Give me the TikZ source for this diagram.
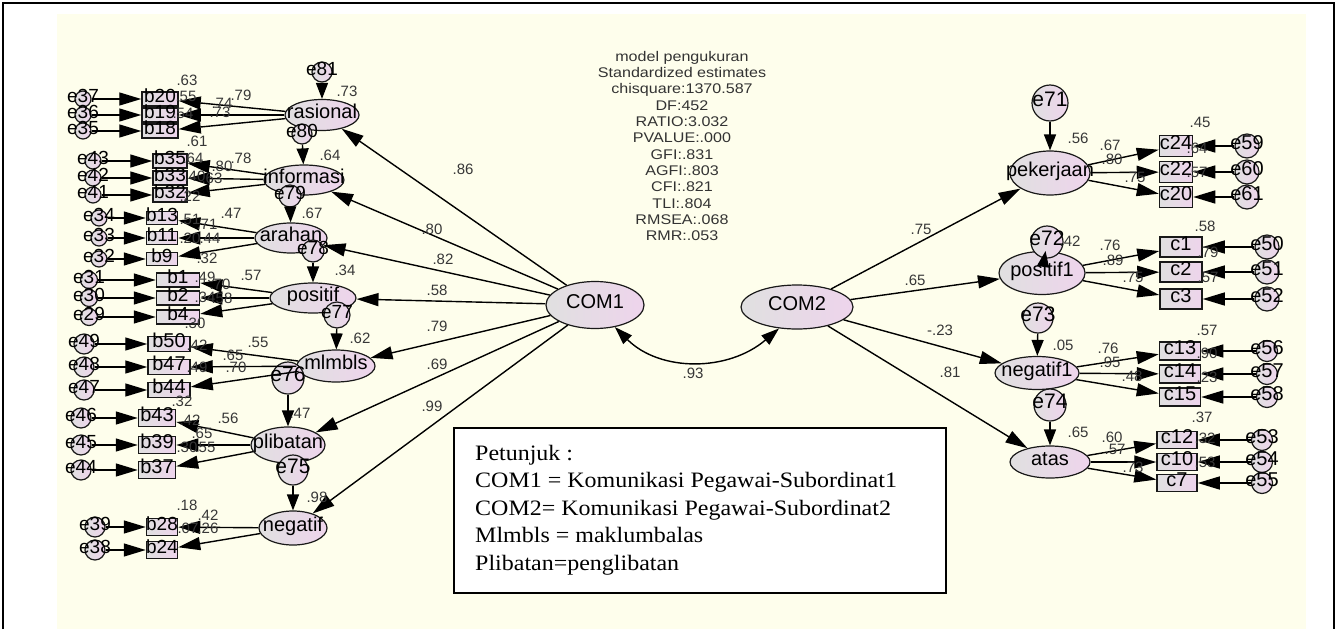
\documentclass[tikz,border=0pt]{standalone}
\usepackage{fontspec}
\setmainfont{Liberation Sans}
\newfontfamily\statfont[FakeStretch=1.15]{Liberation Sans}
\newfontfamily\notefont[FakeStretch=1.09]{Liberation Serif}
\usetikzlibrary{shapes.geometric,arrows.meta}
\newcommand\FS[1]{\fontsize{#1}{#1}\selectfont}
\definecolor{bgy}{RGB}{254,254,236}
\definecolor{gL}{RGB}{224,224,224}
\definecolor{gR}{RGB}{238,212,236}
\definecolor{lab}{RGB}{55,55,55}
\tikzset{
  zt/.style={execute at begin node={\hbox to 0pt\bgroup\hss}, execute at end node={\hss\egroup}, text height=#1, text depth=-#1},
  shp/.style={draw=black!90, line width=1.2pt, left color=gL, right color=gR, inner sep=0pt},
  lat/.style n args={2}{shp, ellipse, minimum width=#1, minimum height=#2, font=\FS{20}, zt=7.2pt},
  obsL/.style n args={2}{shp, rectangle, line width=1.5pt, minimum width=#1, minimum height=#2, font=\FS{19}, zt=6.8pt},
  obsR/.style n args={2}{shp, rectangle, line width=1.5pt, minimum width=#1, minimum height=#2, font=\FS{20}, zt=7.2pt},
  errS/.style={shp, circle, minimum size=#1, font=\FS{19}, zt=6.8pt},
  errR/.style={shp, circle, minimum size=#1, font=\FS{20}, zt=7.2pt},
  errB/.style={shp, circle, minimum size=#1, font=\FS{21}, zt=7.6pt},
  arr/.style={line width=1.4pt, -{Triangle[length=22pt,width=13pt]}},
  arrS/.style={line width=1.4pt, -{Triangle[length=16pt,width=12pt]}},
  cov/.style={line width=1.4pt, {Triangle[length=18pt,width=12pt]}-{Triangle[length=18pt,width=12pt]}},
  lb/.style={font=\FS{15}, text=lab, inner sep=0pt},
}
\begin{document}
\begin{tikzpicture}[x=1pt,y=-1pt]
\useasboundingbox (0,0) rectangle (1338,629);
\fill[bgy] (57,14) rectangle (1306,629);
\draw[line width=2.5pt] (3,629) -- (3,3) -- (1334,3) -- (1334,629);

% ---------- central latents
\node[lat={98}{47}] (com1) at (595,305) {COM1};
\node[lat={112}{44}] (com2) at (797,307) {COM2};

% ---------- left latents
\node[lat={74}{31}] (ras) at (322,115) {rasional};
\node[lat={80}{30}] (inf) at (304,180) {informasi};
\node[lat={72}{30}] (ara) at (291,238) {arahan};
\node[lat={86}{30}] (pos) at (313,298) {positif};
\node[lat={78}{32}] (mlm) at (336,366) {mlmbls};
\node[lat={74}{36}] (pli) at (288,445) {plibatan};
\node[lat={68}{34}] (neg) at (293,528) {negatif};

% ---------- right latents
\node[lat={80}{44}] (pek) at (1050,173) {pekerjaan};
\node[lat={86}{43}] (pos1) at (1042,273) {positif1};
\node[lat={84}{33}] (neg1) at (1037,373) {negatif1};
\node[lat={80}{32}] (atas) at (1050,462) {atas};

% ---------- left indicators
\node[obsL={36}{14}] (b20) at (160,99) {b20};
\node[obsL={36}{14}] (b19) at (160,115) {b19};
\node[obsL={36}{14}] (b18) at (160,131) {b18};
\node[obsL={34}{14}] (b35) at (170,161) {b35};
\node[obsL={34}{14}] (b33) at (170,178) {b33};
\node[obsL={34}{14}] (b32) at (170,195) {b32};
\node[obsL={31}{13}] (b13) at (162,218) {b13};
\node[obsL={31}{13}] (b11) at (162,238) {b11};
\node[obsL={31}{13}] (b9) at (162,259) {b9};
\node[obsL={43}{14}] (b1) at (178,280) {b1};
\node[obsL={43}{14}] (b2) at (178,298) {b2};
\node[obsL={43}{14}] (b4) at (178,317) {b4};
\node[obsR={42}{15}] (b50) at (169,344) {b50};
\node[obsR={42}{15}] (b47) at (169,367) {b47};
\node[obsR={42}{15}] (b44) at (169,390) {b44};
\node[obsR={37}{17}] (b43) at (157,418) {b43};
\node[obsR={37}{17}] (b39) at (157,445) {b39};
\node[obsR={37}{17}] (b37) at (157,470) {b37};
\node[obsL={31}{17}] (b28) at (162,527) {b28};
\node[obsL={31}{17}] (b24) at (162,550) {b24};

% ---------- right indicators
\node[obsR={33}{21}] (c24) at (1176,146) {c24};
\node[obsR={33}{21}] (c22) at (1176,172) {c22};
\node[obsR={33}{21}] (c20) at (1176,197) {c20};
\node[obsR={42}{20}] (c1) at (1181,247) {c1};
\node[obsR={42}{20}] (c2) at (1181,272) {c2};
\node[obsR={42}{20}] (c3) at (1181,299) {c3};
\node[obsR={41}{18}] (c13) at (1180,351) {c13};
\node[obsR={41}{18}] (c14) at (1180,374) {c14};
\node[obsR={41}{18}] (c15) at (1180,397) {c15};
\node[obsR={40}{17}] (c12) at (1177,440) {c12};
\node[obsR={40}{17}] (c10) at (1177,462) {c10};
\node[obsR={40}{17}] (c7) at (1177,483) {c7};

% ---------- left indicator errors
\node[errS=16] (e37) at (83,99) {e37};
\node[errS=16] (e36) at (83,115) {e36};
\node[errS=16] (e35) at (83,131) {e35};
\node[errS=16] (e43) at (93,161) {e43};
\node[errS=16] (e42) at (93,178) {e42};
\node[errS=16] (e41) at (93,195) {e41};
\node[errS=16] (e34) at (99,218) {e34};
\node[errS=16] (e33) at (99,238) {e33};
\node[errS=16] (e32) at (99,259) {e32};
\node[errS=17] (e31) at (89,280) {e31};
\node[errS=17] (e30) at (89,298) {e30};
\node[errS=17] (e29) at (89,317) {e29};
\node[errS=20] (e49) at (84,344) {e49};
\node[errS=20] (e48) at (84,367) {e48};
\node[errS=20] (e47) at (84,390) {e47};
\node[errS=20] (e46) at (81,418) {e46};
\node[errS=20] (e45) at (81,445) {e45};
\node[errS=20] (e44) at (81,470) {e44};
\node[errS=20] (e39) at (95,527) {e39};
\node[errS=20] (e38) at (95,550) {e38};

% ---------- right indicator errors
\node[errR=24] (e59) at (1247,146) {e59};
\node[errR=24] (e60) at (1247,172) {e60};
\node[errR=24] (e61) at (1247,197) {e61};
\node[errR=24] (e50) at (1267,247) {e50};
\node[errR=24] (e51) at (1267,272) {e51};
\node[errR=24] (e52) at (1267,299) {e52};
\node[errR=21] (e56) at (1267,351) {e56};
\node[errR=21] (e57) at (1267,374) {e57};
\node[errR=21] (e58) at (1267,397) {e58};
\node[errR=21] (e53) at (1262,440) {e53};
\node[errR=21] (e54) at (1262,462) {e54};
\node[errR=21] (e55) at (1262,483) {e55};

% ---------- latent residuals
\node[errS=20] (e81) at (322,72) {e81};
\node[errS=20] (e80) at (302,134) {e80};
\node[errS=22] (e79) at (290,196) {e79};
\node[errS=22] (e78) at (313,251) {e78};
\node[errS=26] (e77) at (337,315) {e77};
\node[errB=32] (e76) at (288,378) {e76};
\node[errB=30] (e75) at (293,470) {e75};
\node[errB=36] (e71) at (1050,103) {e71};
\node[errB=32] (e72) at (1047,242) {e72};
\node[errB=30] (e73) at (1038,318) {e73};
\node[errB=32] (e74) at (1050,405) {e74};

% ---------- connectors
\foreach \t in {ras,inf,ara,pos,mlm,pli,neg} \draw[arr] (com1) -- (\t);
\foreach \t in {pek,pos1,neg1,atas} \draw[arr] (com2) -- (\t);
\foreach \l/\b in {ras/b20,ras/b19,ras/b18,inf/b35,inf/b33,inf/b32,ara/b13,ara/b11,ara/b9,
  pos/b1,pos/b2,pos/b4,mlm/b50,mlm/b47,mlm/b44,pli/b43,pli/b39,pli/b37,neg/b28,neg/b24,
  pek/c24,pek/c22,pek/c20,pos1/c1,pos1/c2,pos1/c3,neg1/c13,neg1/c14,neg1/c15,atas/c12,atas/c10,atas/c7}
  \draw[arr] (\l) -- (\b);
\foreach \e/\b in {e37/b20,e36/b19,e35/b18,e43/b35,e42/b33,e41/b32,e34/b13,e33/b11,e32/b9,
  e31/b1,e30/b2,e29/b4,e49/b50,e48/b47,e47/b44,e46/b43,e45/b39,e44/b37,e39/b28,e38/b24,
  e59/c24,e60/c22,e61/c20,e50/c1,e51/c2,e52/c3,e56/c13,e57/c14,e58/c15,e53/c12,e54/c10,e55/c7}
  \draw[arr] (\e) -- (\b);
\foreach \e/\l in {e81/ras,e80/inf,e79/ara,e78/pos,e77/mlm,e76/pli,e75/neg,e71/pek,e72/pos1,e73/neg1,e74/atas}
  \draw[arrS] (\e) -- (\l);
\draw[cov] (com1.-48) .. controls (660,372) and (728,372) .. (com2.-130);

% ---------- coefficient labels
\foreach \t/\x/\y [count=\i] in {.86/463/169,.80/432/229,.82/443/259,.58/437/290,.79/437/326,.69/437/364,.99/432/406,
  .75/921/229,.65/915/280,-.23/940/330,.81/950/372,.93/693/373}
  \node[lb] (C\i) at (\x,\y) {\t};
\foreach \t/\x/\y [count=\i] in {.73/347/91,.64/330/155,.67/312/213,.34/345/270,.62/360/338,.47/300/413,.98/317/497,
  .56/1078/138,.42/1070/241,.05/1063/345,.65/1078/432}
  \node[lb] (R\i) at (\x,\y) {\t};
\foreach \t/\x/\y [count=\i] in {.63/187/80,.55/186/96,.54/183/113,.79/241/95,.74/222/103,.73/220/112,
  .61/197/141,.64/193/158,.40/195/176,.78/241/158,.80/222/166,.63/212/178,
  .22/190/196,.51/190/219,.20/190/238,.47/231/213,.71/207/224,.44/210/238,
  .32/207/258,.49/205/277,.34/205/297,.57/251/275,.70/220/284,.58/222/298,
  .30/195/323,.42/197/345,.49/197/367,.55/258/342,.65/233/355,.70/236/367,
  .32/182/401,.42/190/420,.30/187/447,.56/228/418,.65/202/433,.55/205/447,
  .18/187/505,.07/188/528,.42/208/515,.26/208/528}
  \node[lb] (L\i) at (\x,\y) {\t};
\foreach \t/\x/\y [count=\i] in {.45/1200/122,.64/1197/148,.57/1197/172,.67/1110/145,.80/1112/159,.75/1135/177,
  .58/1205/226,.79/1208/252,.57/1208/277,.76/1110/245,.89/1113/260,.75/1133/277,
  .57/1207/330,.90/1207/353,.23/1207/377,.76/1108/348,.95/1110/362,.48/1132/376,
  .37/1202/417,.32/1205/438,.53/1205/462,.60/1112/437,.57/1115/449,.73/1133/467}
  \node[lb] (Q\i) at (\x,\y) {\t};

% ---------- fit statistics
\node[font={\statfont\fontsize{14}{16.3}\selectfont}, text=black!80, align=center, anchor=north, inner sep=0pt] (stats) at (682,51)
 {model pengukuran\\Standardized estimates\\chisquare:1370.587\\DF:452\\RATIO:3.032\\PVALUE:.000\\GFI:.831\\AGFI:.803\\CFI:.821\\TLI:.804\\RMSEA:.068\\RMR:.053};

% ---------- legend
\node[draw, line width=1.5pt, fill=white, minimum width=492, minimum height=165, anchor=north west, inner sep=0pt] (legend) at (453,427) {};
\node[font={\notefont\fontsize{22}{27.5}\selectfont}, align=left, anchor=north west, inner sep=0pt] (legtxt) at (475,445)
 {Petunjuk :\\COM1 = Komunikasi Pegawai-Subordinat1\\COM2= Komunikasi Pegawai-Subordinat2\\Mlmbls = maklumbalas\\Plibatan=penglibatan};
\end{tikzpicture}
\end{document}
